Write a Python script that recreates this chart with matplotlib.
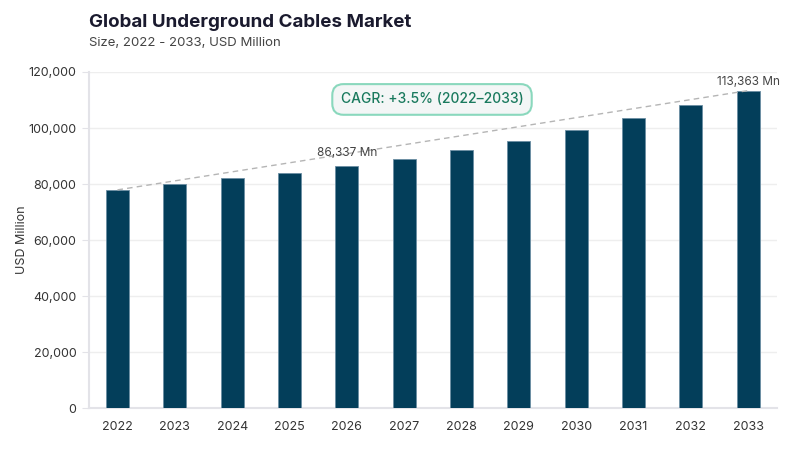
import matplotlib
matplotlib.use("Agg")
import matplotlib.pyplot as plt
import numpy as np

plt.rcParams['font.family'] = ['Inter', 'DejaVu Sans']

years = ['2022', '2023', '2024', '2025', '2026', '2027', '2028', '2029', '2030', '2031', '2032', '2033']
values = [77900, 80100, 82100, 84000, 86337, 88900, 92000, 95500, 99300, 103600, 108200, 113363]
yticks = [0, 20000, 40000, 60000, 80000, 100000, 120000]
labels = {4: '86,337 Mn', 11: '113,363 Mn'}
cagr_text = 'CAGR: +3.5% (2022–2033)'

fig = plt.figure(figsize=(8, 4.5), dpi=100)
ax = fig.add_axes([0.111, 0.0933, 0.86, 0.7467])

x = np.arange(len(years))
bar_color = '#033e5a'
ax.bar(x, values, width=0.4, color=bar_color, edgecolor='#6b8ea3', linewidth=0.6, zorder=3)

ax.set_xlim(-0.5, len(years) - 0.5)
ax.set_ylim(0, 120000)
ax.set_yticks(yticks)
ax.set_yticklabels([f'{v:,}' for v in yticks])
ax.set_xticks(x)
ax.set_xticklabels(years)
ax.grid(axis='y', color='#eeeeee', linewidth=1, zorder=0)
ax.set_axisbelow(True)

for s in ['top', 'right']:
    ax.spines[s].set_visible(False)
for s in ['left', 'bottom']:
    ax.spines[s].set_color('#e3e3e8')
    ax.spines[s].set_linewidth(1.5)

ax.tick_params(axis='y', length=5, color='#e3e3e8', labelsize=9, labelcolor='#333333', pad=4)
ax.tick_params(axis='x', length=0, labelsize=9, labelcolor='#333333', pad=9)
ax.set_ylabel('USD Million', fontsize=9, color='#333333', labelpad=0)

# dashed trend line
ax.plot([x[0], x[-1]], [values[0], values[-1]], linestyle=(0, (4, 3)), color='#b5b5b5', linewidth=1, zorder=4)

offsets = {4: 5, 11: 2}
for i, t in labels.items():
    ax.annotate(t, (x[i], values[i]), xytext=(0, offsets[i]), textcoords='offset points',
                ha='center', va='bottom', fontsize=8.5, color='#444444', zorder=5)

fig.text(0.54, 0.779, cagr_text, ha='center', va='center', fontsize=10, color='#1a7a5e',
         fontweight='medium',
         bbox=dict(boxstyle='round,pad=0.6,rounding_size=0.8', facecolor='#f3f6f6', edgecolor='#8ad8bd', linewidth=1.5))

fig.text(0.111, 0.949, 'Global Underground Cables Market', ha='left', va='center',
         fontsize=13.5, fontweight='bold', color='#1a1a2e')
fig.text(0.111, 0.905, 'Size, 2022 - 2033, USD Million', ha='left', va='center',
         fontsize=9.5, color='#444444')

fig.savefig('out.png', dpi=100)
